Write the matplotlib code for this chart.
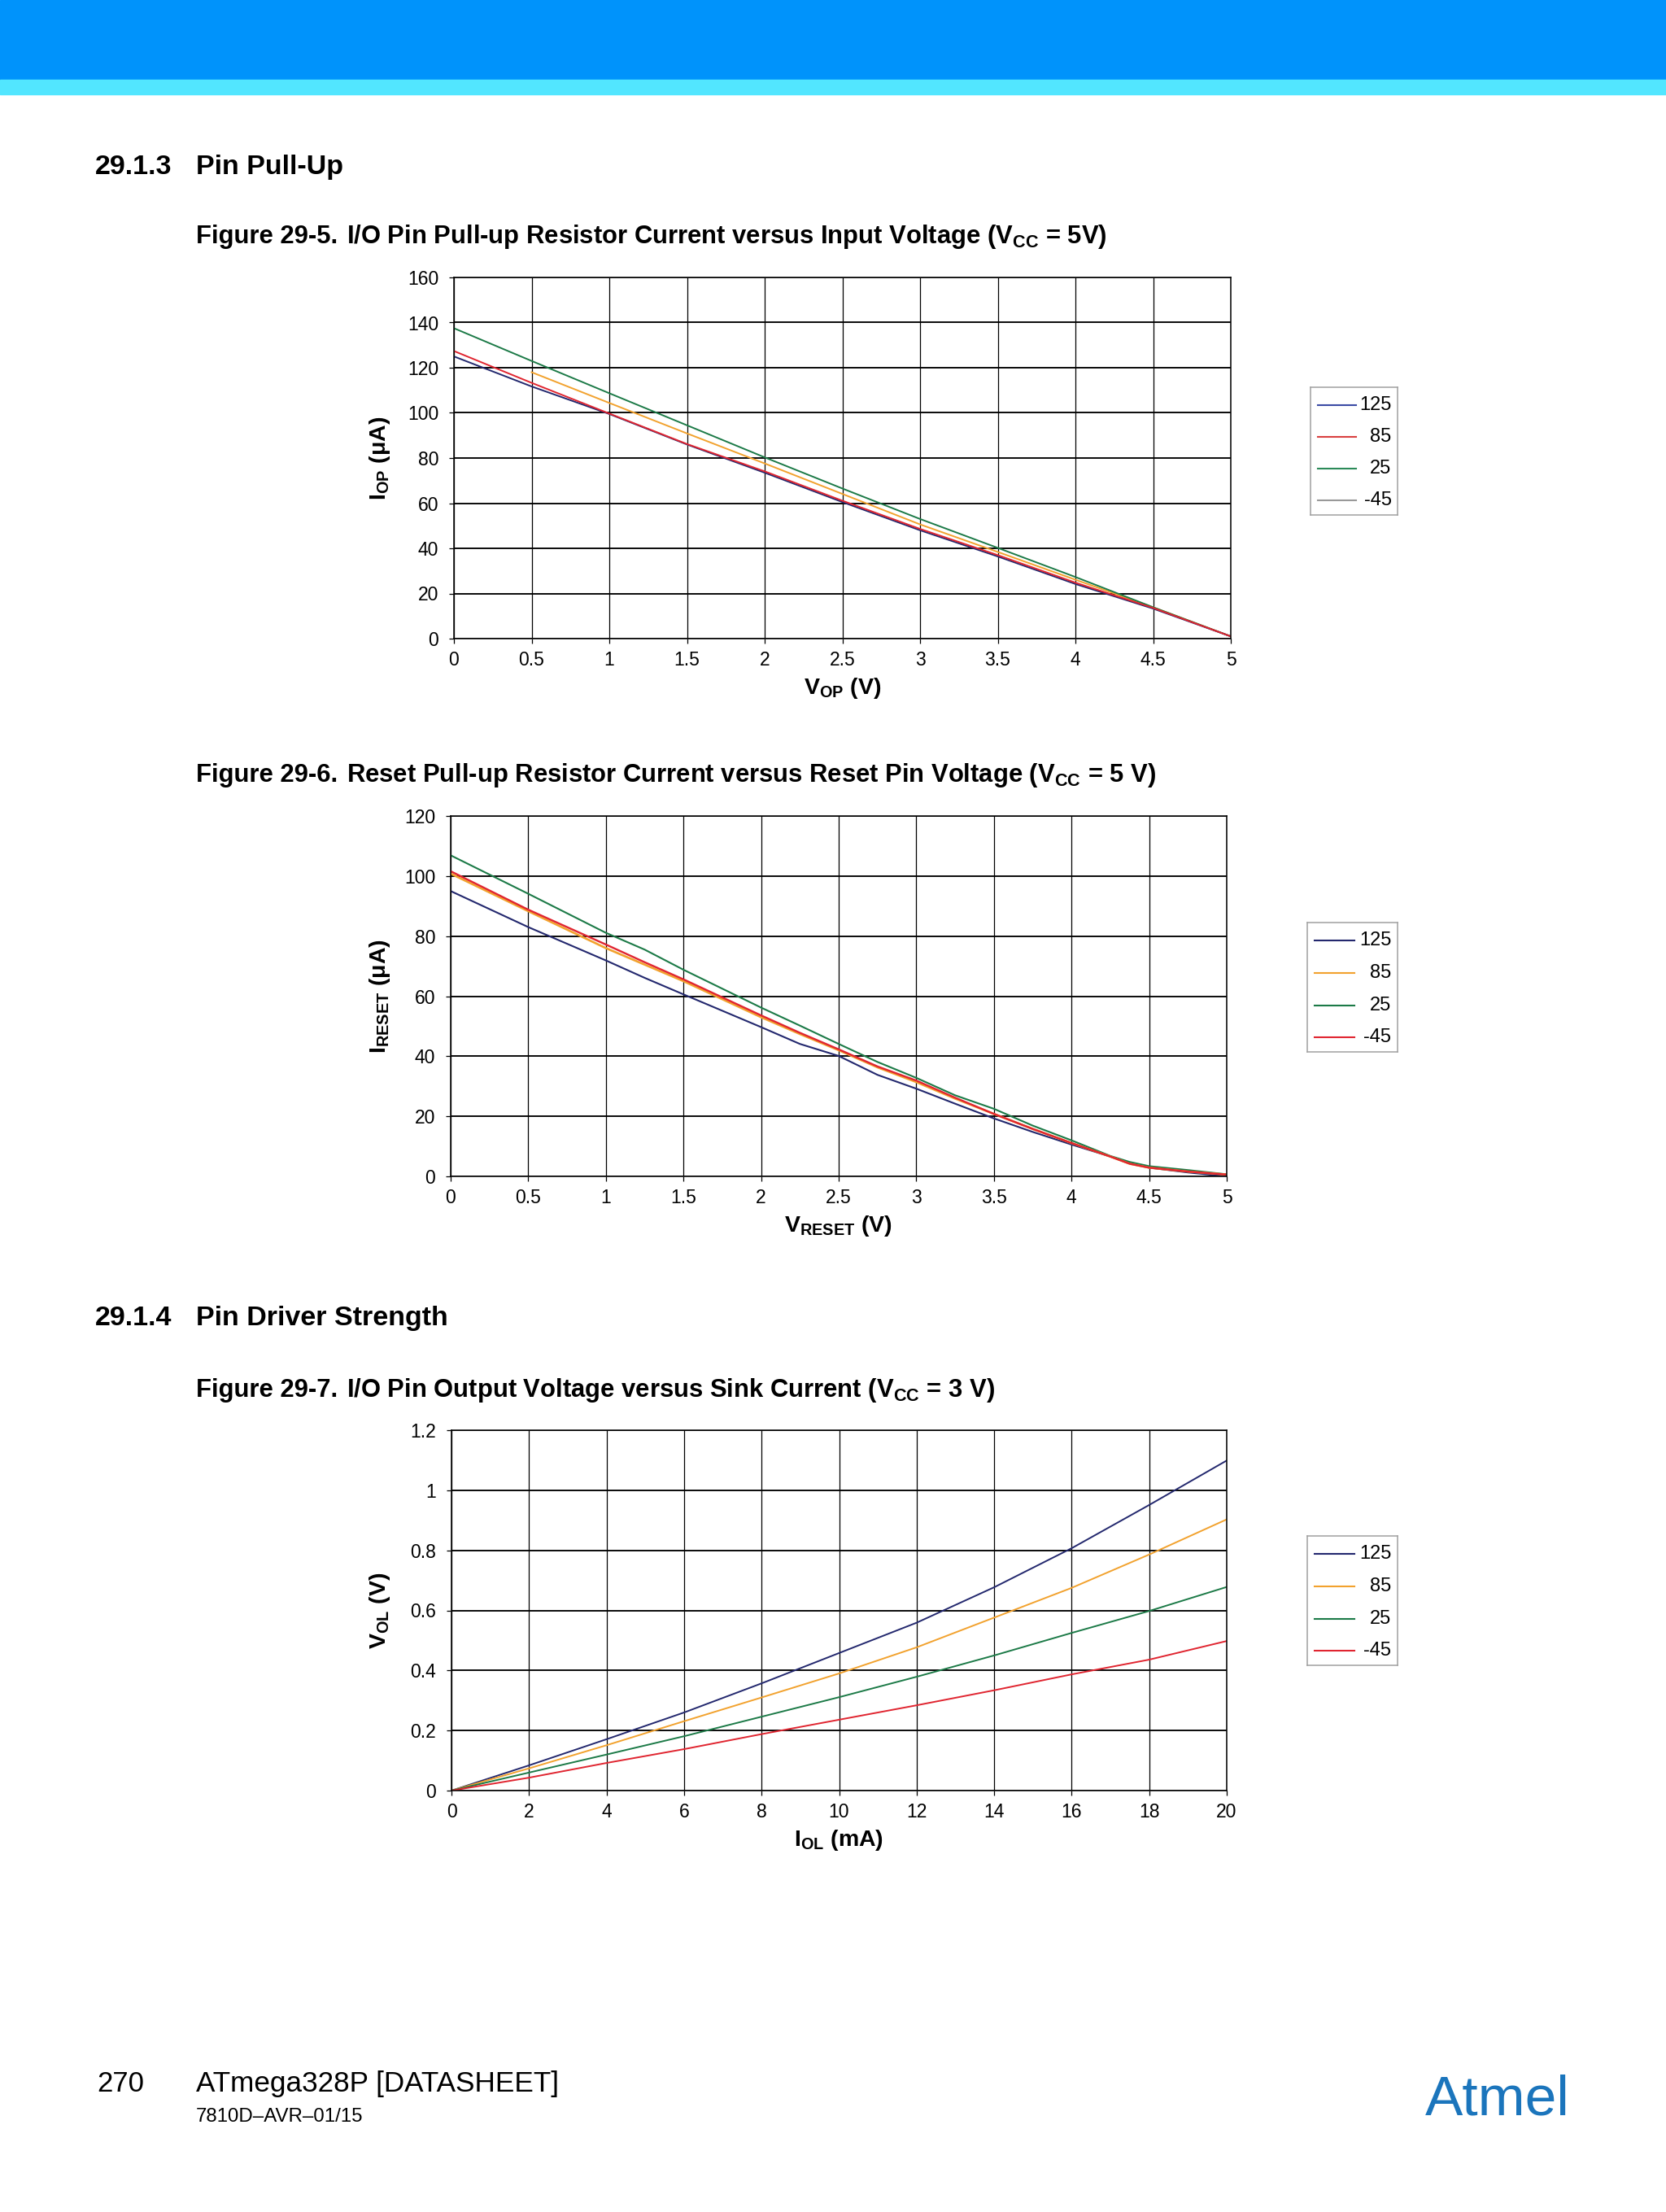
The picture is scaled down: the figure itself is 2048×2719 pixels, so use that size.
import numpy as np
import matplotlib
matplotlib.use('Agg')
import matplotlib.pyplot as plt
from matplotlib.patches import Rectangle

plt.rcParams['font.family'] = ['Liberation Sans', 'DejaVu Sans']
plt.rcParams['mathtext.fontset'] = 'custom'
plt.rcParams['mathtext.rm'] = 'Liberation Sans'
plt.rcParams['mathtext.bf'] = 'Liberation Sans:bold'
plt.rcParams['mathtext.it'] = 'Liberation Sans:italic'
plt.rcParams['mathtext.default'] = 'rm'

W, H = 2048, 2719
DPI = 100

temps = ['125', '85', '25', '-45']

# Figure 29-5: I/O pin pull-up current vs input voltage
v_op = [0, 0.5, 1, 1.5, 2, 2.5, 3, 3.5, 4, 4.5, 5]
iop_125 = [125, 111.7, 99.5, 86, 73.5, 60.5, 48, 36.4, 24.2, 13.3, 1]
iop_85 = [127.4, 113.3, 99.7, 86.2, 74.1, 61.1, 48.6, 37, 24.8, 13.6, 1]
iop_25 = [137.5, 123, 108.7, 94.5, 80.3, 66.5, 53, 40.2, 27.3, 13.9, 1]
iop_m45 = [np.nan, 118, 104.4, 90.9, 77.6, 64.1, 50.6, 38.4, 26.1, 13.9, 1]

# Figure 29-6: reset pull-up current vs reset pin voltage
v_reset = [0, 0.5, 1, 1.25, 1.5, 2, 2.25, 2.5, 2.75, 3, 3.25, 3.5, 3.75, 4,
           4.25, 4.375, 4.5, 4.75, 5]
ireset_125 = [95, 83, 71.9, 66.1, 60.6, 49.7, 44.1, 40.1, 33.8, 29.2, 24.2,
              19.3, 14.8, 10.6, 6.6, 4.4, 2.9, 1.3, 0]
ireset_85 = [100.8, 88.3, 76.0, 70.5, 65.0, 53.0, 47.4, 42.0, 36.3, 31.4, 25.9,
             20.8, 15.8, 11.1, 6.6, 4.2, 2.9, 1.6, 0.6]
ireset_25 = [106.9, 94.1, 81.1, 75.5, 68.8, 56.2, 50.2, 44.1, 38.1, 32.8, 27,
             22.5, 16.9, 12, 6.8, 4.8, 3.4, 2.1, 0.7]
ireset_m45 = [101.6, 88.8, 77.2, 71.3, 65.6, 53.6, 47.8, 42.3, 36.6, 31.9, 26.2,
              20.8, 15.8, 11.1, 6.6, 4.2, 2.9, 1.6, 0.6]

# Figure 29-7: output voltage vs sink current
i_ol = [0, 2, 4, 6, 8, 10, 12, 14, 16, 18, 20]
vol_125 = [0, 0.084, 0.171, 0.26, 0.357, 0.458, 0.559, 0.677, 0.807, 0.951, 1.099]
vol_85 = [0, 0.074, 0.151, 0.231, 0.31, 0.39, 0.477, 0.576, 0.675, 0.786, 0.903]
vol_25 = [0, 0.06, 0.12, 0.181, 0.246, 0.311, 0.379, 0.45, 0.525, 0.598, 0.678]
vol_m45 = [0, 0.043, 0.092, 0.138, 0.188, 0.236, 0.284, 0.334, 0.387, 0.436, 0.498]

xt_v = [0, 0.5, 1, 1.5, 2, 2.5, 3, 3.5, 4, 4.5, 5]
xt_v_lbl = ['0', '0.5', '1', '1.5', '2', '2.5', '3', '3.5', '4', '4.5', '5']
yt_iop = [0, 20, 40, 60, 80, 100, 120, 140, 160]
yt_ireset = [0, 20, 40, 60, 80, 100, 120]
xt_iol = [0, 2, 4, 6, 8, 10, 12, 14, 16, 18, 20]
yt_vol = [0, 0.2, 0.4, 0.6, 0.8, 1.0, 1.2]
yt_vol_lbl = ['0', '0.2', '0.4', '0.6', '0.8', '1', '1.2']

NAVY = '#23286e'
ORANGE = '#f2a22e'
GREEN = '#1c7a47'
RED = '#e02530'


def rect(x0, y0, x1, y1):
    return [x0 / W, 1 - y1 / H, (x1 - x0) / W, (y1 - y0) / H]


def fx(x):
    return x / W


def fy(y):
    return 1 - y / H


fig = plt.figure(figsize=(W / DPI, H / DPI), dpi=DPI)

# page header bands
fig.patches.append(Rectangle((0, fy(98)), 1, 98 / H, transform=fig.transFigure,
                             color='#0093fb', zorder=0))
fig.patches.append(Rectangle((0, fy(116)), 1, 18 / H, transform=fig.transFigure,
                             color='#52e6ff', zorder=0))


def style_axes(ax, xt, xl, yt, yl, xlim, ylim):
    ax.set_xlim(*xlim)
    ax.set_ylim(*ylim)
    ax.set_xticks(xt)
    ax.set_xticklabels(xl)
    ax.set_yticks(yt)
    ax.set_yticklabels(yl)
    ax.tick_params(axis='both', direction='out', length=4, width=0.9,
                   labelsize=16.5, colors='black')
    ax.tick_params(axis='x', pad=7)
    ax.tick_params(axis='y', pad=9.5)
    ax.grid(axis='y', color='black', lw=1.35)
    ax.grid(axis='x', color='black', lw=0.9)
    ax.set_axisbelow(True)
    for s in ax.spines.values():
        s.set_color('black')
        s.set_linewidth(1.1)


def set_labels(ax, xlabel, ylabel, ax_px):
    x0, y0, x1, y1 = ax_px
    ax.set_xlabel(xlabel, fontsize=20.5, fontweight='bold')
    ax.xaxis.set_label_coords(0.5, -61 / (y1 - y0))
    ax.xaxis.label.set_verticalalignment('center')
    ax.set_ylabel(ylabel, fontsize=20.5, fontweight='bold')
    ax.yaxis.set_label_coords(-(x0 - 467) / (x1 - x0), 0.5)
    ax.yaxis.label.set_verticalalignment('center')


def legend_box(px, colors):
    x0, y0, x1, y1 = px
    lg = fig.add_axes(rect(x0, y0, x1, y1))
    lg.set_xlim(0, 1)
    lg.set_ylim(0, 1)
    lg.set_xticks([])
    lg.set_yticks([])
    for s in lg.spines.values():
        s.set_color('#a0a0a0')
        s.set_linewidth(1.1)
    ys = [0.86, 0.61, 0.36, 0.115]
    for yv, c, t in zip(ys, colors, temps):
        lg.plot([0.085, 0.52], [yv, yv], color=c, lw=1.5)
        lg.text(0.93, yv, t, ha='right', va='center', fontsize=17)


def headline(num, title, y):
    fig.text(fx(117), fy(y), num, fontsize=24.5, fontweight='bold', va='baseline')
    fig.text(fx(241), fy(y), title, fontsize=24.5, fontweight='bold', va='baseline')


def fig_title(num, title, y):
    fig.text(fx(241), fy(y), num, fontsize=22.3, fontweight='bold', va='baseline')
    fig.text(fx(426), fy(y), title, fontsize=22.3, fontweight='bold', va='baseline')


headline('29.1.3', 'Pin Pull-Up', 214)
fig_title('Figure 29-5.', r'I/O Pin Pull-up Resistor Current versus Input Voltage ($\mathbf{V_{CC}}$ = 5V)', 299)

# chart 1
p1 = (558, 341, 1513, 785)
ax1 = fig.add_axes(rect(*p1))
style_axes(ax1, xt_v, xt_v_lbl, yt_iop, [str(v) for v in yt_iop], (0, 5), (0, 160))
ax1.plot(v_op, iop_m45, color=ORANGE, lw=1.4)
ax1.plot(v_op, iop_25, color=GREEN, lw=1.4)
ax1.plot(v_op, iop_125, color=NAVY, lw=1.4)
ax1.plot(v_op, iop_85, color=RED, lw=1.4)
set_labels(ax1, r'$\mathbf{V_{OP}}$ (V)', r'$\mathbf{I_{OP}}$ ($\mathbf{\mu}$A)', p1)
legend_box((1611, 476, 1718, 633), ['#3b4ba5', '#d94040', '#2b8a58', '#999999'])

fig_title('Figure 29-6.', r'Reset Pull-up Resistor Current versus Reset Pin Voltage ($\mathbf{V_{CC}}$ = 5 V)', 961)

# chart 2
p2 = (554, 1003, 1508, 1446)
ax2 = fig.add_axes(rect(*p2))
style_axes(ax2, xt_v, xt_v_lbl, yt_ireset, [str(v) for v in yt_ireset], (0, 5), (0, 120))
ax2.plot(v_reset, ireset_125, color=NAVY, lw=1.5)
ax2.plot(v_reset, ireset_25, color=GREEN, lw=1.5)
ax2.plot(v_reset, ireset_85, color=ORANGE, lw=1.9)
ax2.plot(v_reset, ireset_m45, color=RED, lw=1.7)
set_labels(ax2, r'$\mathbf{V_{RESET}}$ (V)', r'$\mathbf{I_{RESET}}$ ($\mathbf{\mu}$A)', p2)
legend_box((1607, 1134, 1718, 1293), [NAVY, ORANGE, GREEN, RED])

headline('29.1.4', 'Pin Driver Strength', 1629)
fig_title('Figure 29-7.', r'I/O Pin Output Voltage versus Sink Current ($\mathbf{V_{CC}}$ = 3 V)', 1717)

# chart 3
p3 = (555, 1758, 1508, 2201)
ax3 = fig.add_axes(rect(*p3))
style_axes(ax3, xt_iol, [str(v) for v in xt_iol], yt_vol, yt_vol_lbl, (0, 20), (0, 1.2))
ax3.plot(i_ol, vol_125, color=NAVY, lw=1.4)
ax3.plot(i_ol, vol_85, color=ORANGE, lw=1.4)
ax3.plot(i_ol, vol_25, color=GREEN, lw=1.4)
ax3.plot(i_ol, vol_m45, color=RED, lw=1.4)
set_labels(ax3, r'$\mathbf{I_{OL}}$ (mA)', r'$\mathbf{V_{OL}}$ (V)', p3)
legend_box((1607, 1888, 1718, 2047), [NAVY, ORANGE, GREEN, RED])

# footer
fig.text(fx(119), fy(2571), '270', fontsize=25, va='baseline')
fig.text(fx(241), fy(2571), 'ATmega328P [DATASHEET]', fontsize=25.3, va='baseline')
fig.text(fx(241), fy(2608), '7810D\u2013AVR\u201301/15', fontsize=17.3, va='baseline')
fig.text(fx(1752), fy(2599), 'Atmel', fontsize=50, color='#1b75bc', va='baseline')

fig.savefig('out.png', dpi=DPI)
